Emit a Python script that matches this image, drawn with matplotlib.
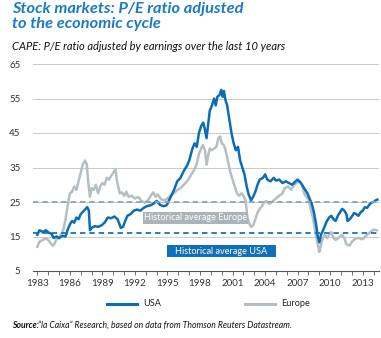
import matplotlib
matplotlib.use("Agg")
import matplotlib.pyplot as plt
from matplotlib.lines import Line2D
from matplotlib.patches import Rectangle

plt.rcParams["font.family"] = ["Lato", "DejaVu Sans"]

# ---- CAPE series (year fraction, value) ----------------------
usa_years = [
    1983.0, 1983.2, 1983.5, 1983.8, 1984.0, 1984.3, 1984.5, 1984.8, 1985.0, 1985.3,
    1985.6, 1985.8, 1986.0, 1986.2, 1986.4, 1986.6, 1986.8, 1987.0, 1987.3, 1987.6,
    1987.75, 1987.85, 1988.0, 1988.3, 1988.6, 1988.9, 1989.2, 1989.5, 1989.8, 1990.1,
    1990.4, 1990.7, 1990.9, 1991.1, 1991.3, 1991.6, 1991.9, 1992.2, 1992.5, 1992.8,
    1993.1, 1993.4, 1993.7, 1994.0, 1994.3, 1994.6, 1994.9, 1995.0, 1995.3, 1995.6,
    1995.9, 1996.2, 1996.5, 1996.8, 1997.0, 1997.3, 1997.5, 1997.7, 1997.9, 1998.1,
    1998.3, 1998.45, 1998.6, 1998.75, 1998.9, 1999.1, 1999.3, 1999.45, 1999.6, 1999.8,
    1999.95, 2000.1, 2000.2, 2000.35, 2000.5, 2000.7, 2000.9, 2001.1, 2001.3, 2001.5,
    2001.7, 2001.9, 2002.1, 2002.3, 2002.5, 2002.7, 2002.9, 2003.1, 2003.3, 2003.5,
    2003.8, 2004.0, 2004.2, 2004.5, 2004.8, 2005.0, 2005.3, 2005.6, 2005.9, 2006.2,
    2006.5, 2006.8, 2007.0, 2007.3, 2007.6, 2007.9, 2008.1, 2008.3, 2008.5, 2008.7,
    2008.85, 2009.0, 2009.15, 2009.3, 2009.5, 2009.7, 2009.9, 2010.1, 2010.3, 2010.5,
    2010.7, 2010.9, 2011.1, 2011.3, 2011.5, 2011.6, 2011.8, 2012.0, 2012.2, 2012.4,
    2012.6, 2012.8, 2013.0, 2013.2, 2013.4, 2013.6, 2013.8, 2014.0, 2014.2, 2014.35,
]
usa_cape = [
    15.5, 16.8, 16.3, 16.8, 16.2, 15.8, 14.6, 15.0, 14.5, 15.2,
    15.0, 17.0, 18.5, 19.5, 19.0, 20.5, 20.0, 21.5, 22.5, 23.5,
    22.5, 16.8, 17.5, 18.0, 17.8, 18.2, 19.0, 20.5, 20.3, 20.8,
    20.0, 17.5, 17.8, 19.5, 21.0, 21.5, 22.5, 22.8, 22.5, 23.3,
    23.8, 24.0, 24.5, 25.3, 24.2, 23.8, 24.0, 24.5, 26.5, 28.5,
    31.0, 32.0, 34.0, 35.5, 37.0, 40.5, 42.0, 41.0, 45.0, 47.0,
    48.0, 46.0, 43.5, 47.5, 51.5, 53.0, 55.0, 53.0, 55.5, 56.0,
    57.5, 55.5, 57.2, 54.5, 53.0, 49.0, 45.0, 42.0, 40.0, 41.0,
    37.0, 35.0, 33.0, 29.5, 27.0, 25.5, 26.5, 28.0, 30.0, 31.5,
    32.0, 33.0, 31.5, 31.0, 32.0, 31.2, 31.5, 30.5, 31.0, 30.5,
    30.0, 31.0, 31.5, 30.5, 29.0, 27.5, 26.0, 24.5, 22.0, 18.5,
    15.0, 13.3, 15.5, 16.5, 18.0, 19.5, 20.5, 21.0, 20.0, 19.5,
    21.0, 22.0, 23.0, 22.5, 21.5, 19.5, 20.0, 20.8, 21.8, 21.5,
    21.0, 22.0, 22.5, 23.5, 23.3, 24.2, 24.8, 25.0, 25.5, 25.7,
]

eur_years = [
    1983.0, 1983.2, 1983.5, 1983.8, 1984.0, 1984.2, 1984.45, 1984.6, 1984.8, 1985.0,
    1985.2, 1985.4, 1985.6, 1985.8, 1986.0, 1986.2, 1986.4, 1986.6, 1986.8, 1987.0,
    1987.2, 1987.4, 1987.55, 1987.7, 1987.85, 1988.0, 1988.2, 1988.4, 1988.6, 1988.8,
    1989.0, 1989.2, 1989.4, 1989.6, 1989.8, 1990.0, 1990.2, 1990.35, 1990.6, 1990.8,
    1991.0, 1991.2, 1991.4, 1991.7, 1992.0, 1992.3, 1992.6, 1992.9, 1993.2, 1993.5,
    1993.7, 1993.9, 1994.1, 1994.4, 1994.7, 1995.0, 1995.3, 1995.6, 1995.9, 1996.2,
    1996.5, 1996.8, 1997.1, 1997.4, 1997.7, 1997.9, 1998.1, 1998.25, 1998.45, 1998.6,
    1998.75, 1998.9, 1999.1, 1999.3, 1999.5, 1999.7, 1999.85, 2000.0, 2000.2, 2000.4,
    2000.6, 2000.8, 2001.0, 2001.2, 2001.4, 2001.6, 2001.8, 2002.0, 2002.2, 2002.35,
    2002.5, 2002.7, 2002.9, 2003.1, 2003.3, 2003.5, 2003.7, 2003.9, 2004.1, 2004.4,
    2004.7, 2005.0, 2005.3, 2005.6, 2005.8, 2006.1, 2006.4, 2006.7, 2007.0, 2007.2,
    2007.4, 2007.6, 2007.8, 2008.0, 2008.2, 2008.4, 2008.6, 2008.8, 2009.0, 2009.1,
    2009.25, 2009.5, 2009.7, 2009.9, 2010.1, 2010.3, 2010.5, 2010.8, 2011.1, 2011.3,
    2011.5, 2011.8, 2012.0, 2012.3, 2012.6, 2012.9, 2013.1, 2013.4, 2013.7, 2014.0,
    2014.3,
]
eur_cape = [
    12.0, 13.5, 14.0, 14.5, 14.0, 13.2, 12.3, 13.0, 14.5, 14.8,
    15.5, 17.0, 20.0, 24.0, 27.5, 28.0, 29.5, 28.5, 31.0, 33.5,
    36.0, 37.0, 36.0, 30.5, 26.5, 29.0, 28.5, 30.0, 27.5, 29.5,
    30.5, 30.0, 32.0, 31.5, 32.5, 33.5, 34.5, 31.0, 27.5, 27.8,
    26.8, 28.0, 26.5, 26.8, 26.0, 26.5, 25.3, 24.8, 25.5, 27.0,
    27.8, 26.5, 27.2, 25.8, 25.5, 26.0, 27.0, 27.5, 28.5, 29.0,
    30.0, 31.0, 32.5, 34.0, 36.0, 39.0, 40.5, 41.5, 40.0, 35.8,
    38.5, 40.5, 40.0, 40.5, 41.0, 43.5, 44.0, 42.0, 41.5, 39.5,
    36.5, 33.5, 31.5, 29.5, 27.5, 26.8, 27.5, 26.8, 25.5, 21.0,
    19.0, 17.8, 18.2, 20.0, 22.0, 23.0, 23.8, 24.8, 25.3, 24.5,
    25.2, 26.0, 26.8, 27.5, 29.0, 29.5, 28.6, 30.0, 30.8, 31.0,
    30.0, 27.5, 26.5, 25.8, 23.0, 20.5, 17.0, 13.5, 10.5, 11.8,
    14.0, 15.5, 14.5, 15.5, 16.3, 14.5, 14.0, 14.7, 15.5, 14.5,
    12.7, 12.4, 13.5, 14.3, 14.6, 14.2, 14.5, 15.5, 16.3, 17.0,
    16.8,
]

usa_avg = 15.9
eur_avg = 25.1

x_ticks = list(range(1983, 2015, 3))
y_ticks = [5, 15, 25, 35, 45, 55, 65]

BLUE = "#0b6db6"
GREY = "#b5bfc3"
TITLE_BLUE = "#1a7bc4"

fig = plt.figure(figsize=(3.81, 3.38), dpi=100)
fig.patch.set_facecolor("white")
ax = fig.add_axes([33 / 381, 1 - 271 / 338, 346 / 381, 207 / 338])

# ---- grid + axes ---------------------------------------------
ax.set_xlim(1982.6, 2014.5)
ax.set_ylim(5, 65)
ax.set_yticks(y_ticks)
ax.set_xticks(x_ticks)
ax.set_xticks(range(1983, 2015), minor=True)
for v in y_ticks[1:]:
    ax.axhline(v, color="#c9c9c9", lw=0.7, zorder=0)
for s in ["top", "right", "left"]:
    ax.spines[s].set_visible(False)
ax.spines["bottom"].set_color("#555555")
ax.spines["bottom"].set_linewidth(0.8)
ax.tick_params(axis="y", length=0, labelsize=7, labelcolor="#333333", pad=9)
ax.tick_params(axis="x", which="both", length=3, width=0.6, color="#555555",
               labelsize=7, labelcolor="#333333", pad=3)

# ---- series --------------------------------------------------
ax.plot(eur_years, eur_cape, color=GREY, lw=1.8, zorder=2, solid_joinstyle="round")
ax.plot(usa_years, usa_cape, color=BLUE, lw=1.8, zorder=3, solid_joinstyle="round")

ax.axhline(eur_avg, color="#8ea3b0", lw=1.3, ls=(0, (3, 2.2)), zorder=4)
ax.axhline(usa_avg, color="#1474c0", lw=1.3, ls=(0, (3, 2.2)), zorder=4)

# ---- labelled boxes for the averages -------------------------
def boite(x0, y0, w, h, couleur, texte):
    fig.add_artist(Rectangle((x0 / 381, 1 - (y0 + h) / 338), w / 381, h / 338,
                             transform=fig.transFigure, facecolor=couleur,
                             edgecolor="none", zorder=5))
    fig.text((x0 + w / 2) / 381, 1 - (y0 + h / 2) / 338, texte, color="white",
             fontsize=6.6, ha="center", va="center", zorder=6)

boite(143, 212, 105, 12, "#aab5b9", "Historical average Europe")
boite(167, 245, 109, 12, "#0f6fb8", "Historical average USA")

# ---- legend --------------------------------------------------
for x0, col, lab in [(107, BLUE, "USA"), (245, GREY, "Europe")]:
    fig.add_artist(Line2D([x0 / 381, (x0 + 30) / 381], [1 - 304 / 338] * 2,
                          color=col, lw=2.2, transform=fig.transFigure))
    fig.text((x0 + 36) / 381, 1 - 304 / 338, lab, fontsize=6.6, color="#222222",
             ha="left", va="center")

# ---- titles --------------------------------------------------
fig.text(12 / 381, 1 - 2 / 338, "Stock markets: P/E ratio adjusted\nto the economic cycle",
         color=TITLE_BLUE, fontsize=11.8, fontweight="bold", fontstyle="italic",
         ha="left", va="top", linespacing=1.05)
fig.text(12 / 381, 1 - 46 / 338,
         "CAPE: P/E ratio adjusted by earnings over the last 10 years",
         color="#111111", fontsize=8.0, fontstyle="italic", ha="left", va="center")

fig.text(12 / 381, 1 - 325 / 338, "Source:", fontsize=6.2, fontweight="bold",
         fontstyle="italic", color="#111111", ha="left", va="center")
fig.text(38 / 381, 1 - 325 / 338,
         "\u201cla Caixa\u201d Research, based on data from Thomson Reuters Datastream.",
         fontsize=6.2, fontstyle="italic", color="#111111", ha="left", va="center")

fig.savefig("out.png", dpi=100, facecolor="white")
